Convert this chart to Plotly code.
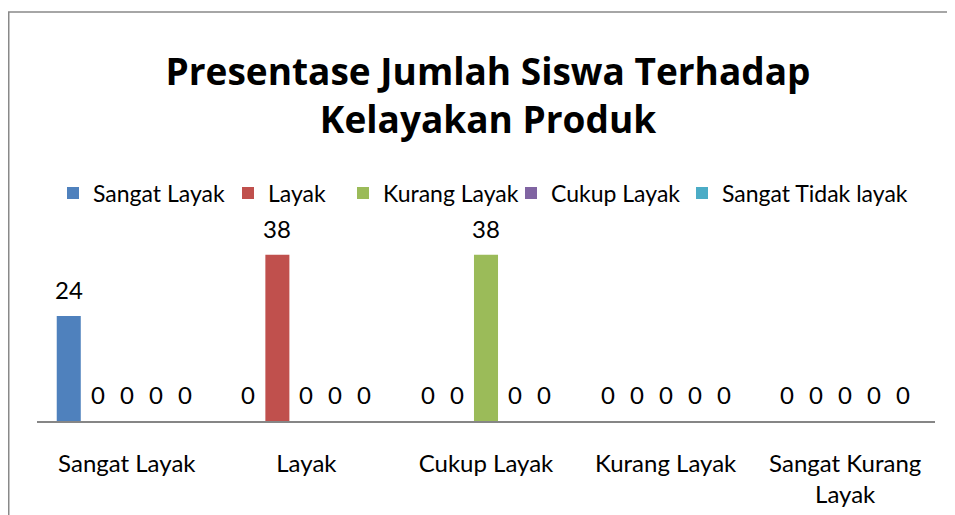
import plotly.graph_objects as go

categories = ["Sangat Layak", "Layak", "Cukup Layak", "Kurang Layak", "Sangat Kurang<br>Layak"]
series_names = ["Sangat Layak", "Layak", "Kurang Layak", "Cukup Layak", "Sangat Tidak layak"]
sangat_layak = [24, 0, 0, 0, 0]
layak = [0, 38, 0, 0, 0]
kurang_layak = [0, 0, 38, 0, 0]
cukup_layak = [0, 0, 0, 0, 0]
sangat_tidak_layak = [0, 0, 0, 0, 0]
series_values = [sangat_layak, layak, kurang_layak, cukup_layak, sangat_tidak_layak]
title_text = "Presentase Jumlah Siswa Terhadap<br>Kelayakan Produk"
colors = ["#4F81BD", "#C0504D", "#9BBB59", "#8064A2", "#4BACC6"]
legend_widths = [130, 70, 123, 126, 200]

# the page adds an 8px body margin, so the figure is drawn 8px smaller
W, H = 947, 507
ML, MR, MT, MB = 29, 20, 238, 94
PW = W - ML - MR
PH = H - MT - MB
AXIS_Y = H - MB
BARGAP = 0.192
BARGROUPGAP = 0.172
FONT = "Lato"
TXT = 24

fig = go.Figure()
for name, vals, col, lw in zip(series_names, series_values, colors, legend_widths):
    fig.add_trace(go.Bar(x=categories, y=vals, name=name, marker_color=col,
                         marker_line_width=0, legendwidth=lw, hoverinfo="skip"))

slot = (PW / len(categories)) * (1 - BARGAP) / len(series_values)
n = len(series_values)
annotations = []
for i, vals in enumerate(series_values):
    for cat, v in zip(categories, vals):
        annotations.append(dict(
            x=cat, y=v, xref="x", yref="y", text=str(v), showarrow=False,
            xshift=(i - (n - 1) / 2) * slot, yshift=10, yanchor="bottom",
            font=dict(family=FONT, size=TXT, color="#000000")))

fig.update_layout(
    width=W, height=H,
    margin=dict(l=ML, r=MR, t=MT, b=MB),
    paper_bgcolor="white", plot_bgcolor="white",
    barmode="group", bargap=BARGAP, bargroupgap=BARGROUPGAP,
    font=dict(family=FONT, color="#000000"),
    title=dict(text=title_text,
               font=dict(family="Open Sans", size=37, color="#000000", weight="bold"),
               x=480 / W, xanchor="center", xref="container",
               y=1 - 77 / H, yanchor="middle", yref="container"),
    legend=dict(orientation="h", x=(45 - ML) / PW, xanchor="left",
                y=(AXIS_Y - 185) / PH, yanchor="middle",
                font=dict(family=FONT, size=23, color="#000000"),
                bgcolor="rgba(0,0,0,0)", itemclick=False),
    xaxis=dict(showline=True, linecolor="#868686", linewidth=1.5, ticks="",
               tickfont=dict(family=FONT, size=TXT, color="#000000"),
               ticklabelstandoff=20, showgrid=False, zeroline=False,
               fixedrange=True, automargin=False),
    yaxis=dict(range=[0, 40], visible=False, fixedrange=True, automargin=False),
    annotations=annotations,
    shapes=[dict(type="rect", xref="paper", yref="paper",
                 x0=(0.75 - ML) / PW, x1=(1100 - ML) / PW,
                 y0=(AXIS_Y - 800) / PH, y1=(AXIS_Y - 4) / PH,
                 line=dict(color="#898989", width=1.5), fillcolor="rgba(0,0,0,0)",
                 layer="below")],
    showlegend=True,
)

fig.write_html("out.html")
